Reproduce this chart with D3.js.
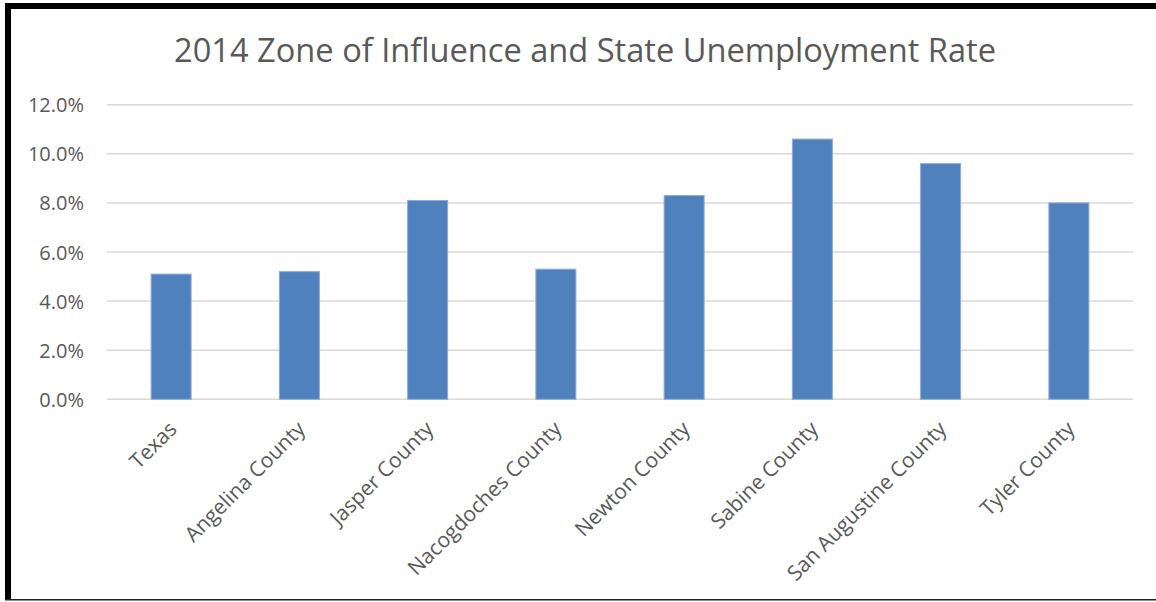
<!DOCTYPE html>
<html><head><meta charset="utf-8">
<script src="https://cdn.jsdelivr.net/npm/d3@7"></script>
<style>body{margin:0;background:#fff}svg{display:block}</style>
</head><body>
<svg id="chart" width="1156" height="602"></svg>
<script>
const title = "2014 Zone of Influence and State Unemployment Rate";
const categories = ["Texas","Angelina County","Jasper County","Nacogdoches County","Newton County","Sabine County","San Augustine County","Tyler County"];
const values = [5.1, 5.2, 8.1, 5.3, 8.3, 10.6, 9.6, 8.0];
const yTicks = [0, 2, 4, 6, 8, 10, 12];

const svg = d3.select("#chart");
const W = 1156, H = 602;
const m = {left:107, right:1133, top:104.7, bottom:399.3};
const font = "'Open Sans', sans-serif";

svg.append("rect").attr("width",W).attr("height",H).attr("fill","#fff");

const x = d3.scaleBand().domain(categories).range([m.left, m.right]).paddingInner(0.688).paddingOuter(0.344);
const y = d3.scaleLinear().domain([0,12]).range([m.bottom, m.top]);

// gridlines
svg.append("g").selectAll("line").data(yTicks).join("line")
  .attr("x1", m.left).attr("x2", m.right)
  .attr("y1", d=>y(d)).attr("y2", d=>y(d))
  .attr("stroke","#d9d9d9").attr("stroke-width",1.5);

// y axis labels
const yAxis = d3.axisLeft(y).tickValues(yTicks).tickFormat(d=>d3.format(".1f")(d)+"%").tickSize(0).tickPadding(0);
const gy = svg.append("g").attr("transform",`translate(84,0)`).call(yAxis);
gy.select(".domain").remove();
gy.selectAll("text").attr("font-family",font).attr("font-size",20).attr("fill","#595959").attr("dy","0.35em");

// bars
svg.append("g").selectAll("rect").data(values).join("rect")
  .attr("x",(d,i)=>x(categories[i])).attr("width",x.bandwidth())
  .attr("y",d=>y(d)).attr("height",d=>y(0)-y(d))
  .attr("fill","#4f81bd").attr("stroke","#8eaadb").attr("stroke-width",1);

// x labels
const xAxis = d3.axisBottom(x).tickSize(0).tickPadding(0);
const gx = svg.append("g").attr("transform",`translate(0,${m.bottom})`).call(xAxis);
gx.select(".domain").remove();
gx.selectAll("text").attr("font-family",font).attr("font-size",21).attr("fill","#595959")
  .attr("text-anchor","end").attr("dy",null).attr("y",0)
  .attr("transform","translate(7,31) rotate(-45)");

// title
const t = svg.append("text").attr("x",585).attr("y",62).attr("text-anchor","middle")
  .attr("font-family",font).attr("font-size",32).attr("fill","#595959").text(title);
const tw = t.node().getComputedTextLength();
t.attr("font-size", 32*822/tw);

// borders
svg.append("rect").attr("x",5).attr("y",3).attr("width",6).attr("height",597).attr("fill","#000");
svg.append("rect").attr("x",5).attr("y",3).attr("width",1151).attr("height",6).attr("fill","#000");
svg.append("rect").attr("x",5).attr("y",599).attr("width",1151).attr("height",1.5).attr("fill","#222");
</script>
</body></html>
